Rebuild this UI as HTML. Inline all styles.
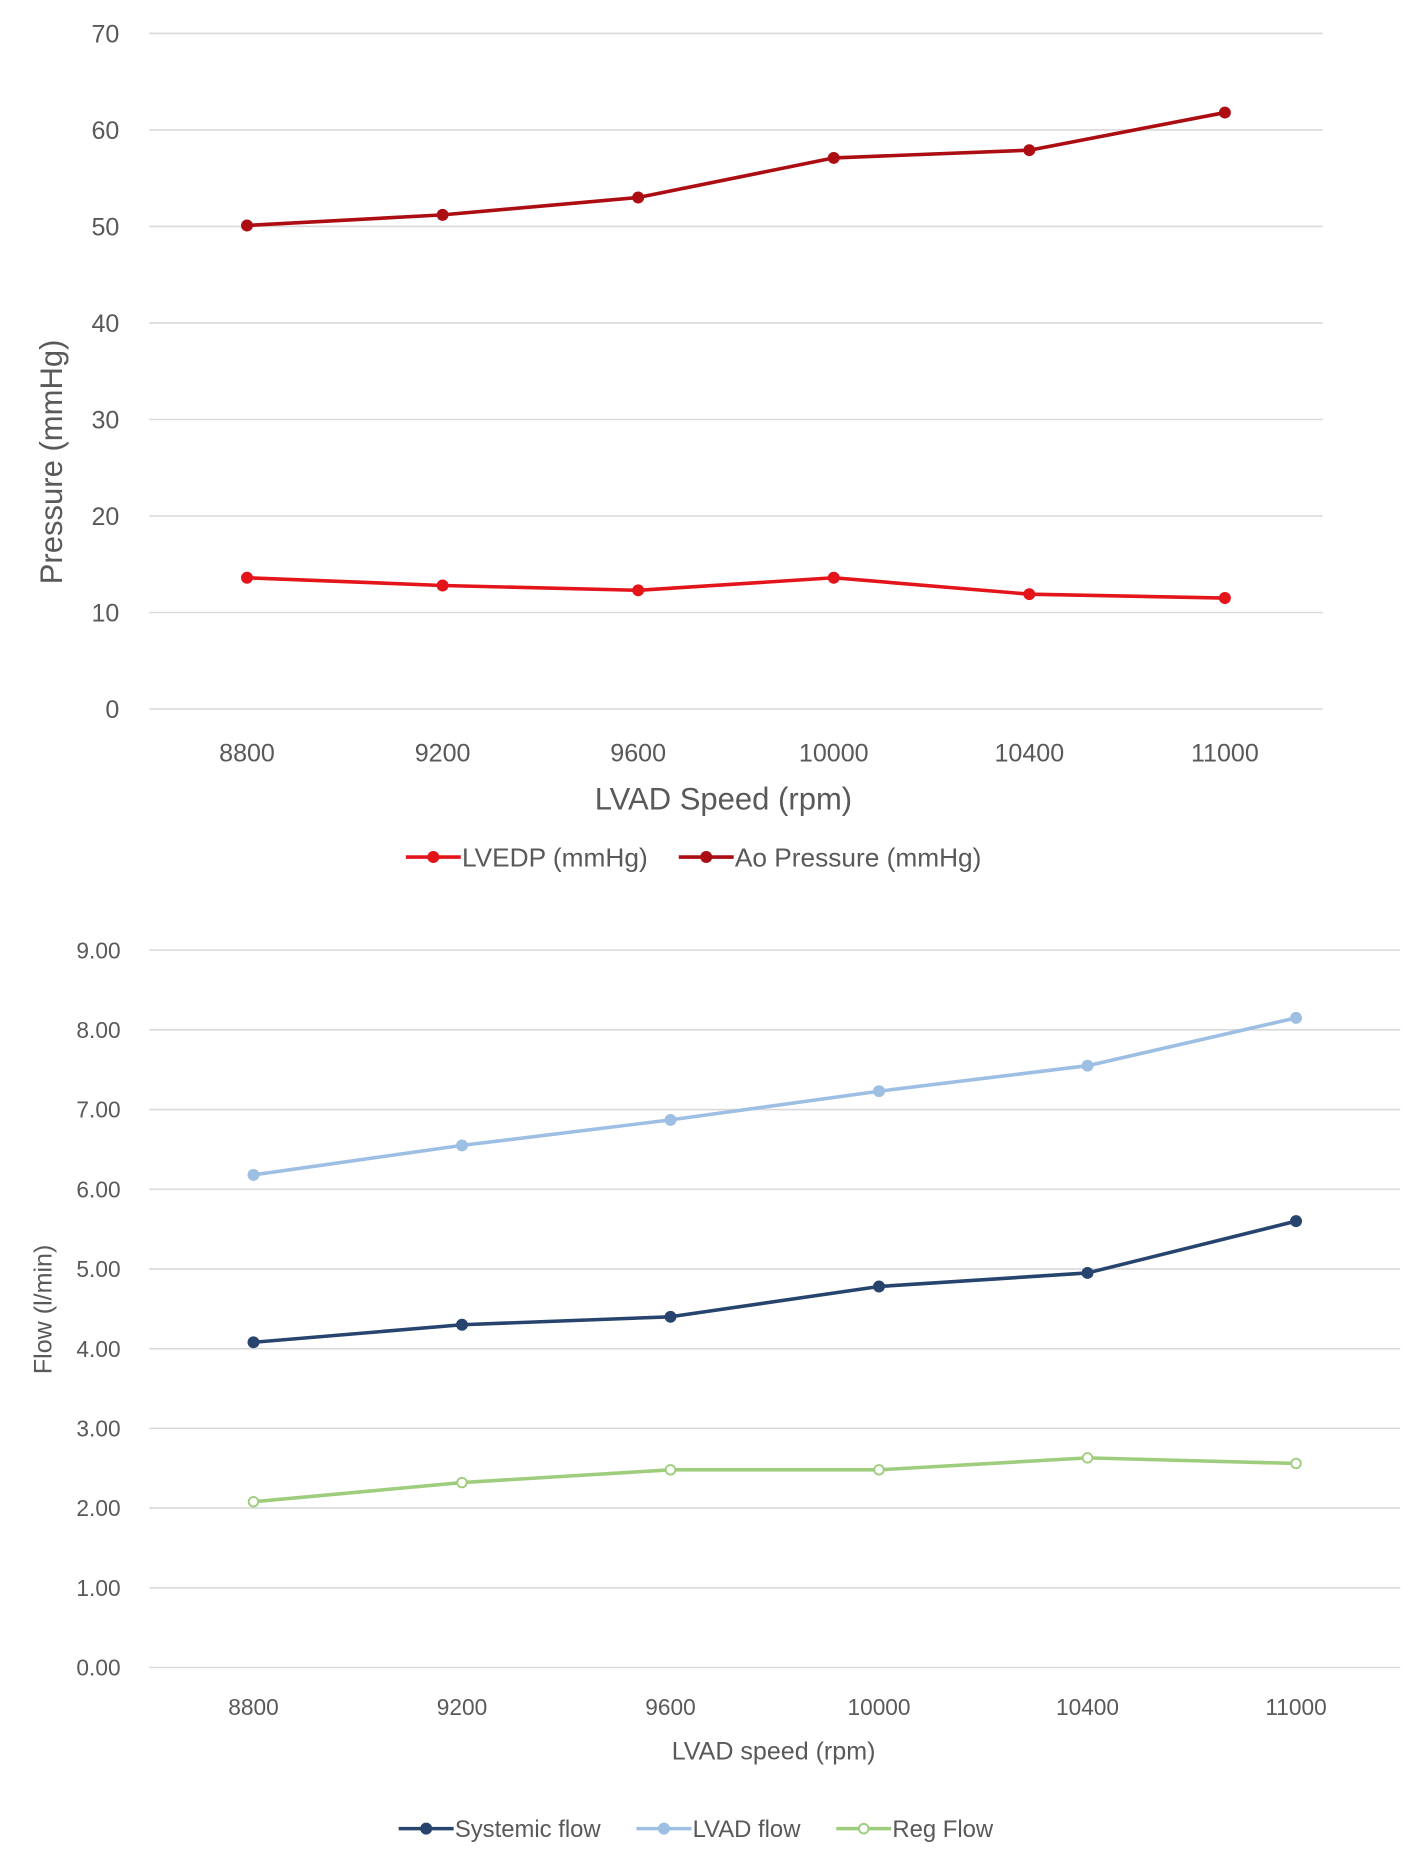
<!DOCTYPE html>
<html><head><meta charset="utf-8"><style>
html,body{margin:0;padding:0;background:#fff}
svg{display:block}
text{font-family:"Liberation Sans",sans-serif;fill:#595959}
</style></head><body>
<svg id="s" width="1417" height="1874" viewBox="0 0 1187 1570" preserveAspectRatio="none"></svg>
<script>
const categories=["8800","9200","9600","10000","10400","11000"];
const lvedp=[13.6,12.8,12.3,13.6,11.9,11.5];
const aoPressure=[50.1,51.2,53.0,57.1,57.9,61.8];
const pTicks=[0,10,20,30,40,50,60,70];
const systemicFlow=[4.08,4.30,4.40,4.78,4.95,5.60];
const lvadFlow=[6.18,6.55,6.87,7.23,7.55,8.15];
const regFlow=[2.08,2.32,2.48,2.48,2.63,2.56];
const fTicks=[0,1,2,3,4,5,6,7,8,9];
const NS="http://www.w3.org/2000/svg";
const svg=document.getElementById('s');
function el(tag,attrs,parent,txt){const e=document.createElementNS(NS,tag);for(const k in attrs)e.setAttribute(k,attrs[k]);if(txt!==undefined)e.textContent=txt;(parent||svg).appendChild(e);return e;}
function chart(o){
  const g=el('g',{});
  
  
  const y=v=>o.y0+(o.y1-o.y0)*(v-o.min)/(o.max-o.min);
  const band=(o.right-o.left)/categories.length;
  const x=i=>o.left+band*(i+0.5);
  o.ticks.forEach(t=>{
    const l=el('line',{x1:o.left,x2:o.right,y1:y(t),y2:y(t),stroke:'#d9d9d9','stroke-width':1.3},g);
    
    
    const tx=el('text',{x:o.tickX,y:y(t)+o.fs*0.36,'text-anchor':'end','font-size':o.fs},g,o.fmt(t));
    
    
  });
  categories.forEach((c,i)=>{
    const tx=el('text',{x:x(i),y:o.xLabelY,'text-anchor':'middle','font-size':o.fs},g,c);
    
    
  });
  const xt=el('text',{x:o.xTitleX,y:o.xTitleY,'text-anchor':'middle','font-size':o.tfs},g,o.xTitle);
  
  
  const yt=el('text',{x:0,y:0,'text-anchor':'middle','font-size':o.tfs,transform:`translate(${o.yTitleX},${o.yTitleY}) rotate(-90)`},g,o.yTitle);
  
  
  o.series.forEach(s=>{
    const p=el('polyline',{points:s.data.map((v,i)=>x(i)+','+y(v)).join(' '),fill:'none',stroke:s.color,'stroke-width':o.sw,'stroke-linejoin':'round'},g);
    
    
    s.data.forEach((v,i)=>{
      const m=el('circle',{cx:x(i),cy:y(v),r:s.hollow?4:5,fill:s.hollow?'#fff':s.color,stroke:s.color,'stroke-width':s.hollow?1.6:0},g);
      
      
    });
  });
  let lx=o.legX;
  o.series.forEach(s=>{
    const lg=el('g',{},g);
    
    
    el('line',{x1:lx,x2:lx+46,y1:o.legY,y2:o.legY,stroke:s.color,'stroke-width':o.sw},lg);
    el('circle',{cx:lx+23,cy:o.legY,r:s.hollow?4:5,fill:s.hollow?'#fff':s.color,stroke:s.color,'stroke-width':s.hollow?1.6:0},lg);
    const t=el('text',{x:lx+47,y:o.legY+o.lfs*0.36,'font-size':o.lfs},lg,s.label);
    lx+=47+t.getComputedTextLength()+o.legGap;
  });
}
chart({name:'pressure-chart',left:125,right:1108,y0:594,y1:28,min:0,max:70,ticks:pTicks,fmt:t=>String(t),
  fs:21,tfs:26,lfs:22,tickX:100,xLabelY:638,xTitle:'LVAD Speed (rpm)',xTitleX:606,xTitleY:678,yTitle:'Pressure (mmHg)',yTitleX:52,yTitleY:387,sw:3,
  legX:340,legY:718,legGap:26,
  series:[{id:'lvedp',label:'LVEDP (mmHg)',data:lvedp,color:'#e3151b'},{id:'ao-pressure',label:'Ao Pressure (mmHg)',data:aoPressure,color:'#ac0d12'}]});
chart({name:'flow-chart',left:125,right:1173,y0:1397,y1:796,min:0,max:9,ticks:fTicks,fmt:t=>t.toFixed(2),
  fs:19,tfs:21,lfs:20,tickX:101,xLabelY:1437,xTitle:'LVAD speed (rpm)',xTitleX:648,xTitleY:1474,yTitle:'Flow (l/min)',yTitleX:43,yTitleY:1097,sw:3,
  legX:334,legY:1532,legGap:30,
  series:[{id:'systemic-flow',label:'Systemic flow',data:systemicFlow,color:'#26446e'},{id:'lvad-flow',label:'LVAD flow',data:lvadFlow,color:'#9dbfe3'},{id:'reg-flow',label:'Reg Flow',data:regFlow,color:'#9fcd7e',hollow:true}]});
</script>
</body></html>
